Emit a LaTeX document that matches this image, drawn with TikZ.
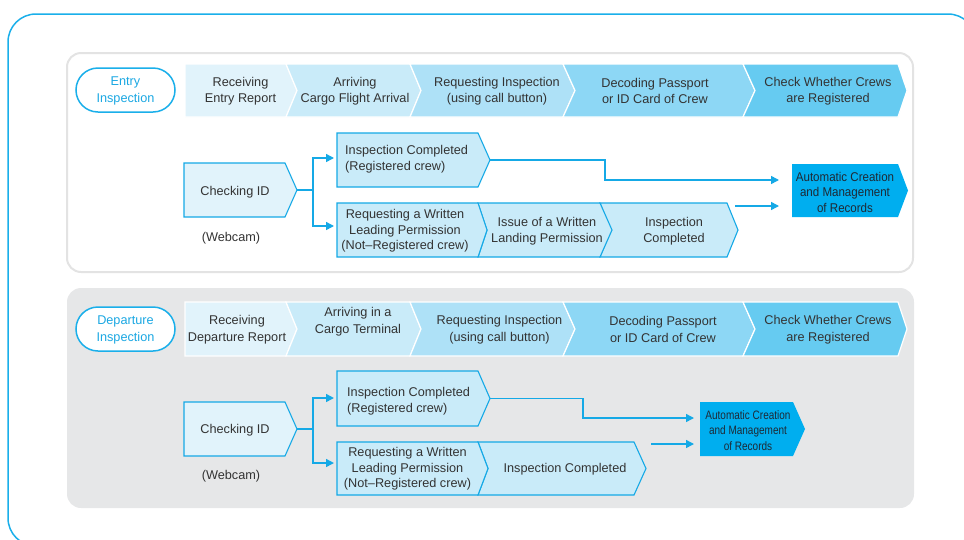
\documentclass[tikz,border=0pt]{standalone}
\usepackage{fontspec}
\setmainfont{Liberation Sans}
\newfontfamily\recfontA[FakeStretch=0.91]{Liberation Sans}
\newfontfamily\recfontB[FakeStretch=0.82]{Liberation Sans}
\usetikzlibrary{arrows.meta}

\definecolor{frameblue}{HTML}{1AAFEA}
\definecolor{lineblue}{HTML}{15A9E6}
\definecolor{pilltext}{HTML}{1BA8E3}
\definecolor{ink}{HTML}{333333}
\definecolor{recink}{HTML}{1E2A36}
\definecolor{shadeA}{HTML}{E1F3FB}
\definecolor{shadeB}{HTML}{C9EBF9}
\definecolor{shadeC}{HTML}{AEE1F7}
\definecolor{shadeD}{HTML}{8DD7F5}
\definecolor{shadeE}{HTML}{66CBF1}
\definecolor{recfill}{HTML}{00AEEF}
\definecolor{panelgray}{HTML}{E6E7E8}
\definecolor{panelline}{HTML}{E3E3E3}

% chevron outline: #1 style, #2 left x, #3 right x, #4 top y, #5 bottom y,
% #6 depth of the notch on the left (0 = flat), #7 depth of the tip on the right
\newcommand{\chevpath}[7]{%
  \path[#1] (#2,#4) -- (#3,#4) -- ({#3+#7},{(#4+#5)/2}) -- (#3,#5) -- (#2,#5)
    -- ({#2+#6},{(#4+#5)/2}) -- cycle;}

\tikzset{
  lbl/.style={font=\fontsize{12.7}{16.5}\selectfont, text=ink, inner sep=0pt, align=center},
  lblleft/.style={lbl, align=left, anchor=west},
  lbltight/.style={font=\fontsize{12.7}{15.5}\selectfont, text=ink, inner sep=0pt, align=center},
  pill/.style={draw=frameblue, line width=1.5pt, fill=white, rounded corners=22pt},
  pilltxt/.style={font=\fontsize{12.7}{17}\selectfont, text=pilltext, inner sep=0pt, align=center},
  rowstep/.style={draw=white, line width=1.2pt},
  flowbox/.style={draw=lineblue, line width=1.1pt},
  recbox/.style={fill=recfill},
  conn/.style={draw=lineblue, line width=1.5pt},
  connarrow/.style={conn, -{Triangle[length=8pt,width=8pt]}},
}

\begin{document}
\begin{tikzpicture}[x=1pt,y=-1pt]
\useasboundingbox (0,0) rectangle (964,539);

% outer frame
\begin{scope}
  \clip (0,0) rectangle (964,539);
  \draw[draw=frameblue, line width=1.5pt, rounded corners=28pt] (8,14) rectangle (976,546);
\end{scope}

% ---------------- entry panel ----------------
\draw[draw=panelline, line width=2pt, fill=white, rounded corners=14pt] (67,53) rectangle (913,272);

\path[pill] (76,68) rectangle (175,112);
\node[pilltxt] (entrytitle) at (125.5,91) {Entry\\Inspection};

\chevpath{rowstep, fill=shadeA}{185}{286}{64}{117}{0}{11}
\chevpath{rowstep, fill=shadeB}{286}{410}{64}{117}{11}{11}
\chevpath{rowstep, fill=shadeC}{410}{563}{64}{117}{11}{12}
\chevpath{rowstep, fill=shadeD}{563}{743}{64}{117}{12}{12}
\chevpath{rowstep, fill=shadeE}{743}{898}{64}{117}{12}{9}
\node[lbl] (e1) at (240.5,91) {Receiving\\Entry Report};
\node[lbl] (e2) at (355,91) {Arriving\\Cargo Flight Arrival};
\node[lbl] (e3) at (497,91) {Requesting Inspection\\(using call button)};
\node[lbl] (e4) at (655,91) {Decoding Passport\\or ID Card of Crew};
\node[lbl] (e5) at (828,91) {Check Whether Crews\\are Registered};

% checking ID
\chevpath{flowbox, fill=shadeA}{184}{285}{163}{217}{0}{12}
\node[lbl] (ecid) at (235,192) {Checking ID};
\coordinate (ecidtip) at (297,190);
\node[lbl] (ecam) at (231,238) {(Webcam)};

% registered branch
\chevpath{flowbox, fill=shadeB}{337}{478}{133}{187}{0}{12}
\node[lblleft] (eok) at (345,159) {Inspection Completed\\(Registered crew)};
\coordinate (eokin) at (334,158);
\coordinate (eoktip) at (490,160);

% not-registered branch
\chevpath{flowbox, fill=shadeB}{600}{727}{203}{257}{11}{11}
\chevpath{flowbox, fill=shadeB}{478}{600}{203}{257}{9}{12}
\chevpath{flowbox, fill=shadeB}{337}{478}{203}{257}{0}{9}
\node[lbltight] (ereq) at (405,231) {Requesting a Written\\Leading Permission\\(Not--Registered crew)};
\node[lbl] (eissue) at (547,231) {Issue of a Written\\Landing Permission};
\node[lbl] (edone) at (674,231) {Inspection\\Completed};
\coordinate (ereqin) at (334,226);
\coordinate (edoneout) at (735,206);

% records
\chevpath{recbox}{792}{898}{164}{217}{0}{10}
\node[font=\recfontA\fontsize{12.7}{15.5}\selectfont, text=recink, inner sep=0pt, align=center]
  (erec) at (845,192) {Automatic Creation\\and Management\\of Records};
\coordinate (erecinA) at (779,180);
\coordinate (erecinB) at (779,206);

\draw[conn] (ecidtip) -- (313,190);
\draw[connarrow] (313,190) |- (eokin);
\draw[connarrow] (313,190) |- (ereqin);
\draw[connarrow] (eoktip) -- (605,160) |- (erecinA);
\draw[connarrow] (edoneout) -- (erecinB);

% ---------------- departure panel ----------------
\fill[panelgray, rounded corners=14pt] (67,288) rectangle (914,508);

\path[pill] (76,307) rectangle (175,351);
\node[pilltxt] (deptitle) at (125.5,330) {Departure\\Inspection};

\chevpath{rowstep, fill=shadeA}{185}{286}{302}{356}{0}{11}
\chevpath{rowstep, fill=shadeB}{286}{410}{302}{356}{11}{11}
\chevpath{rowstep, fill=shadeC}{410}{563}{302}{356}{11}{12}
\chevpath{rowstep, fill=shadeD}{563}{743}{302}{356}{12}{12}
\chevpath{rowstep, fill=shadeE}{743}{898}{302}{356}{12}{9}
\node[lbl] (d1) at (237,329.5) {Receiving\\Departure Report};
\node[lbl] (d2) at (358,321.5) {Arriving in a\\Cargo Terminal};
\node[lbl] (d3) at (499.5,329.5) {Requesting Inspection\\(using call button)};
\node[lbl] (d4) at (663,329.5) {Decoding Passport\\or ID Card of Crew};
\node[lbl] (d5) at (828,329.5) {Check Whether Crews\\are Registered};

% checking ID
\chevpath{flowbox, fill=shadeA}{184}{285}{402}{456}{0}{12}
\node[lbl] (dcid) at (235,430) {Checking ID};
\coordinate (dcidtip) at (297,429);
\node[lbl] (dcam) at (231,476) {(Webcam)};

% registered branch
\chevpath{flowbox, fill=shadeB}{337}{478}{371}{426}{0}{12}
\node[lblleft] (dok) at (347,401) {Inspection Completed\\(Registered crew)};
\coordinate (dokin) at (334,398);
\coordinate (doktip) at (490,398.5);

% not-registered branch
\chevpath{flowbox, fill=shadeB}{478}{634}{442}{495}{10}{12}
\chevpath{flowbox, fill=shadeB}{337}{478}{442}{495}{0}{10}
\node[lbltight] (dreq) at (407.5,469) {Requesting a Written\\Leading Permission\\(Not--Registered crew)};
\node[lbl] (ddone) at (565,469) {Inspection Completed};
\coordinate (dreqin) at (334,463);
\coordinate (ddoneout) at (651,444);

% records
\chevpath{recbox}{700}{793}{402}{456}{0}{12}
\node[font=\recfontB\fontsize{12.2}{15.5}\selectfont, text=recink, inner sep=0pt, align=center]
  (drec) at (748,430.5) {Automatic Creation\\and Management\\of Records};
\coordinate (drecinA) at (694,418);
\coordinate (drecinB) at (694,444);

\draw[conn] (dcidtip) -- (313,429);
\draw[connarrow] (313,429) |- (dokin);
\draw[connarrow] (313,429) |- (dreqin);
\draw[connarrow] (doktip) -- (583,398.5) |- (drecinA);
\draw[connarrow] (ddoneout) -- (drecinB);

\end{tikzpicture}
\end{document}
